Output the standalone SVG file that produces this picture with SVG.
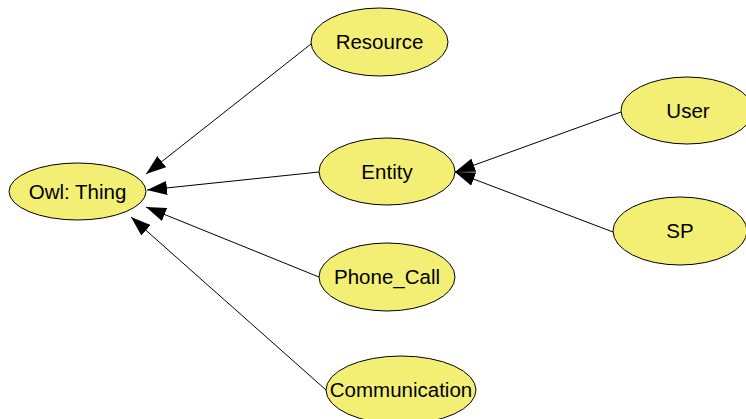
<svg xmlns="http://www.w3.org/2000/svg" width="746" height="419" viewBox="0 0 746 419">
<style>
.node ellipse{fill:#f3ef74;stroke:#000;stroke-width:1}
.node text{font-family:"Liberation Sans",Arial,sans-serif;font-size:20.5px;fill:#000;text-anchor:middle}
.edge{stroke:#000;stroke-width:1;fill:none;marker-end:url(#arr)}
</style>
<defs>
<marker id="arr" viewBox="0 0 20 14" refX="20" refY="7" markerWidth="20" markerHeight="14" markerUnits="userSpaceOnUse" orient="auto">
<path d="M0,0 L20,7 L0,14 z" fill="#000"/>
</marker>
</defs>
<rect width="746" height="419" fill="#fff"/>
<g id="edges">
<line class="edge" x1="311" y1="44" x2="146" y2="174"/>
<line class="edge" x1="319" y1="172" x2="147" y2="190"/>
<line class="edge" x1="319" y1="277" x2="146" y2="207"/>
<line class="edge" x1="326" y1="390" x2="131" y2="217"/>
<line class="edge" x1="621" y1="112" x2="455" y2="172"/>
<line class="edge" x1="613" y1="232" x2="455" y2="172"/>
</g>
<g id="owl_thing" class="node"><ellipse cx="77.5" cy="191.5" rx="68.5" ry="28.5"/><text x="77.5" y="198.5">Owl: Thing</text></g>
<g id="resource" class="node"><ellipse cx="379.5" cy="42" rx="68.5" ry="34"/><text x="379.5" y="49">Resource</text></g>
<g id="entity" class="node"><ellipse cx="387" cy="171.5" rx="68" ry="33.5"/><text x="387" y="178.5">Entity</text></g>
<g id="phone_call" class="node"><ellipse cx="387" cy="277" rx="68" ry="34"/><text x="387" y="284">Phone_Call</text></g>
<g id="communication" class="node"><ellipse cx="401" cy="390" rx="75" ry="34"/><text x="401" y="397">Communication</text></g>
<g id="user" class="node"><ellipse cx="687" cy="110.5" rx="66" ry="33.5"/><text x="688" y="117.5">User</text></g>
<g id="sp" class="node"><ellipse cx="680" cy="231" rx="67" ry="34"/><text x="680" y="238">SP</text></g>
</svg>
